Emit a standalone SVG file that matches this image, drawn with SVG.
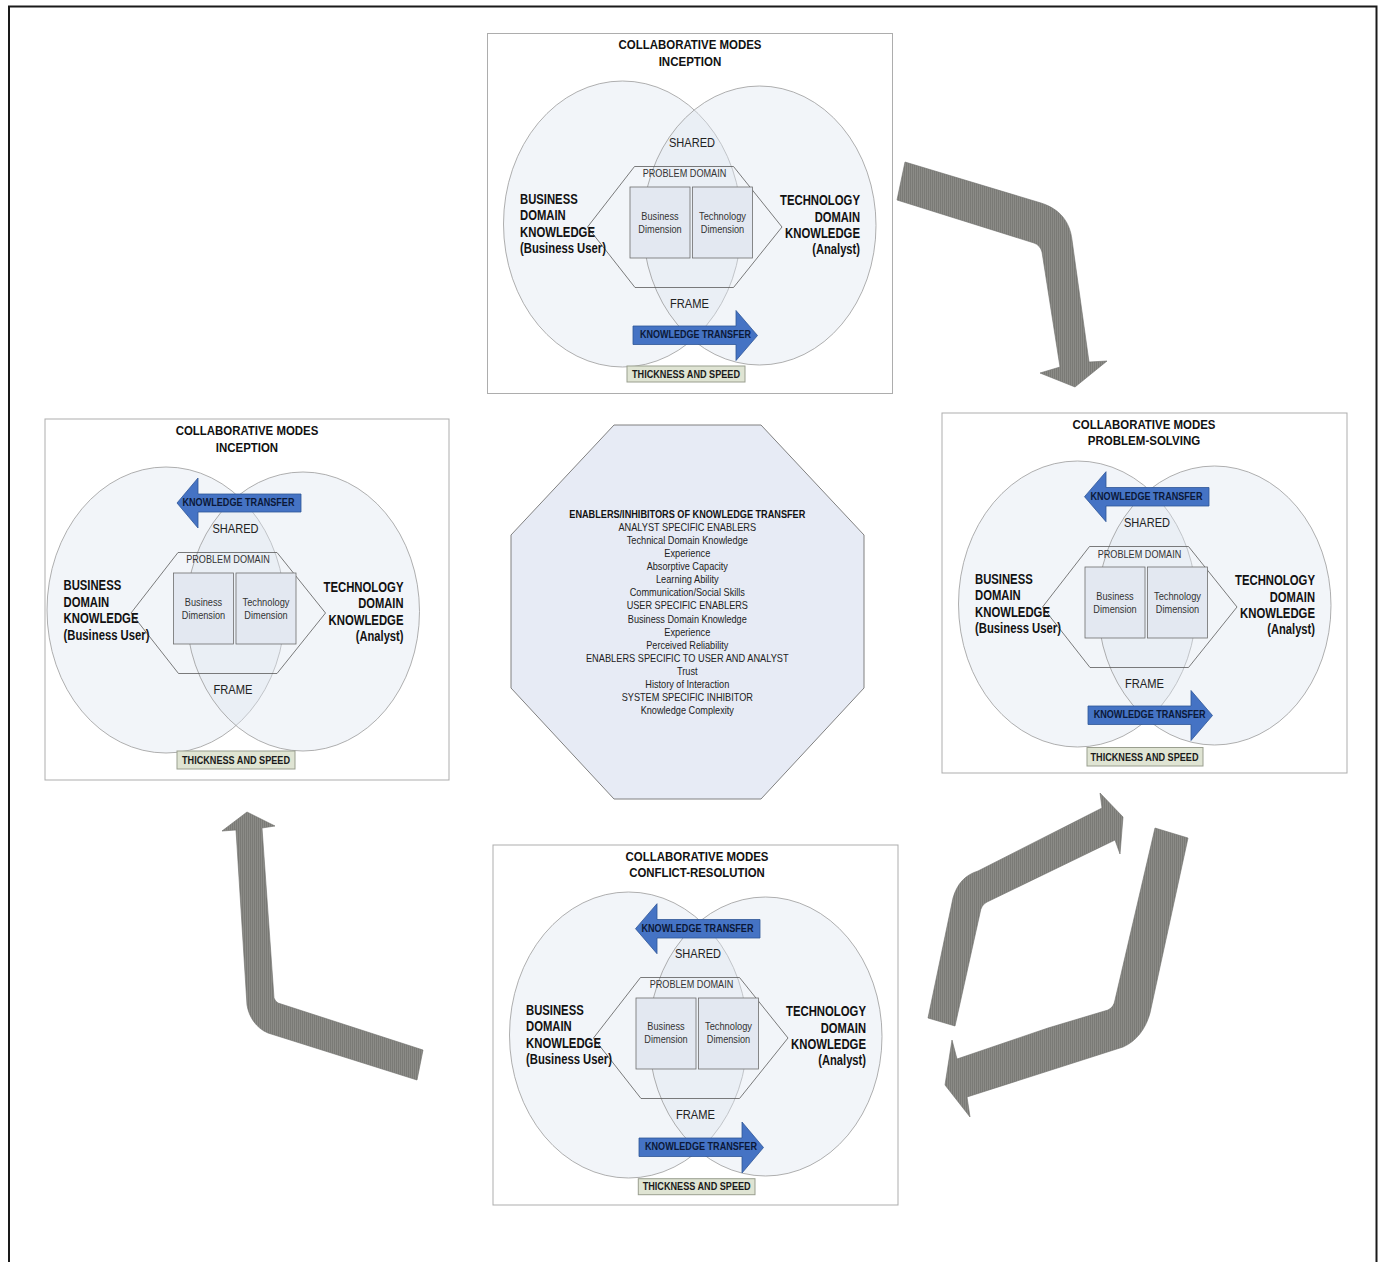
<svg xmlns="http://www.w3.org/2000/svg" width="1382" height="1262" viewBox="0 0 1382 1262">
<defs>
  <pattern id="stripes" width="2" height="4" patternUnits="userSpaceOnUse">
    <rect width="2" height="4" fill="#8b8b87"/>
    <rect width="1" height="4" fill="#7a7a76"/>
  </pattern>
</defs>
<style>
  text{font-family:"Liberation Sans",Arial,sans-serif}
  .title{font-size:13px;font-weight:bold;fill:#111;text-anchor:middle}
  .lbl{font-size:14px;font-weight:bold;fill:#111}
  .lblr{font-size:14px;font-weight:bold;fill:#111;text-anchor:end}
  .mid{font-size:13px;fill:#222;text-anchor:middle}
  .pd{font-size:11px;fill:#333;text-anchor:middle}
  .dim{font-size:10.5px;fill:#333;text-anchor:middle}
  .kt{font-size:10px;font-weight:bold;fill:#0b1838;text-anchor:middle}
  .ts{font-size:11.5px;font-weight:bold;fill:#1a1a1a;text-anchor:middle}
  .oct{font-size:10.5px;fill:#222;text-anchor:middle}
  .octb{font-size:10.5px;font-weight:bold;fill:#111;text-anchor:middle}
  .panel{fill:#fff;stroke:#adadad;stroke-width:1}
  .ell{fill:#dfe5f1;fill-opacity:.4;stroke:#9a9a9a;stroke-width:.8}
  .hex{fill:none;stroke:#5a5a5a;stroke-width:.8}
  .box{fill:#e3e8f1;stroke:#6e6e6e;stroke-width:.8}
  .blue{fill:#4573c4;stroke:#2f5597;stroke-width:.8}
  .tsbox{fill:#dfe4d3;stroke:#9a9f8f;stroke-width:1}
  .gray{fill:url(#stripes);stroke:#6d6d69;stroke-width:.6}
  .frame{fill:none;stroke:#1a1a1a;stroke-width:2}
  .octagon{fill:#e7ebf5;stroke:#808080;stroke-width:1}
</style>

<!-- page frame (open at the bottom edge) -->
<rect class="frame" x="9" y="6.5" width="1367.5" height="1290"/>

<!-- Panel: inception (top) -->
<g id="panel-inception-top" transform="translate(487,33)">
  <rect class="panel" x="0.5" y="0.5" width="405" height="360"/>
  <text class="title" x="203" y="16" textLength="143" lengthAdjust="spacingAndGlyphs">COLLABORATIVE MODES</text>
  <text class="title" x="203" y="32.5" textLength="62.7" lengthAdjust="spacingAndGlyphs">INCEPTION</text>
  <g class="venn">
    <ellipse class="ell" cx="135.5" cy="191" rx="119" ry="143"/>
    <ellipse class="ell" cx="272.5" cy="192.5" rx="116.5" ry="139.5"/>
    <polygon class="hex" points="147.5,133.5 246.5,133.5 295,194 246.5,254.5 148,254.5 100.5,194"/>
    <text class="pd" x="197.5" y="143.7" textLength="83.6" lengthAdjust="spacingAndGlyphs">PROBLEM DOMAIN</text>
    <rect class="box" x="143" y="154" width="60" height="71"/>
    <rect class="box" x="205.5" y="154" width="60" height="71"/>
    <text class="dim" x="173" y="186.5" textLength="37.3" lengthAdjust="spacingAndGlyphs">Business</text>
    <text class="dim" x="173" y="199.5" textLength="43.3" lengthAdjust="spacingAndGlyphs">Dimension</text>
    <text class="dim" x="235.5" y="186.5" textLength="47" lengthAdjust="spacingAndGlyphs">Technology</text>
    <text class="dim" x="235.5" y="199.5" textLength="43.3" lengthAdjust="spacingAndGlyphs">Dimension</text>
    <text class="mid" x="205" y="114" textLength="46" lengthAdjust="spacingAndGlyphs">SHARED</text>
    <text class="mid" x="202.5" y="275" textLength="39" lengthAdjust="spacingAndGlyphs">FRAME</text>
    <text class="lbl" x="33" y="170.5" textLength="57.7" lengthAdjust="spacingAndGlyphs">BUSINESS</text>
    <text class="lbl" x="33" y="187" textLength="45.7" lengthAdjust="spacingAndGlyphs">DOMAIN</text>
    <text class="lbl" x="33" y="203.5" textLength="75" lengthAdjust="spacingAndGlyphs">KNOWLEDGE</text>
    <text class="lbl" x="33" y="220" textLength="86" lengthAdjust="spacingAndGlyphs">(Business User)</text>
    <text class="lblr" x="373" y="172" textLength="80" lengthAdjust="spacingAndGlyphs">TECHNOLOGY</text>
    <text class="lblr" x="373" y="188.5" textLength="45.3" lengthAdjust="spacingAndGlyphs">DOMAIN</text>
    <text class="lblr" x="373" y="205" textLength="75" lengthAdjust="spacingAndGlyphs">KNOWLEDGE</text>
    <text class="lblr" x="373" y="221" textLength="47.7" lengthAdjust="spacingAndGlyphs">(Analyst)</text>
  </g>
  <polygon class="blue" points="146,293 249,293 249,277.5 270.5,302.5 249,327.5 249,311.5 146,311.5"/>
  <text class="kt" x="208.5" y="305" textLength="111" lengthAdjust="spacingAndGlyphs">KNOWLEDGE TRANSFER</text>
  <rect class="tsbox" x="140" y="333" width="118" height="16"/>
  <text class="ts" x="199" y="344.5" textLength="108" lengthAdjust="spacingAndGlyphs">THICKNESS AND SPEED</text>
</g>

<!-- Panel: inception (left) -->
<g id="panel-inception-left" transform="translate(45,419)">
  <rect class="panel" x="0" y="0" width="404" height="361"/>
  <text class="title" x="202" y="16" textLength="142.7" lengthAdjust="spacingAndGlyphs">COLLABORATIVE MODES</text>
  <text class="title" x="202" y="32.7" textLength="62.3" lengthAdjust="spacingAndGlyphs">INCEPTION</text>
  <g class="venn" transform="translate(-14.5,0)">
    <ellipse class="ell" cx="135.5" cy="191" rx="119" ry="143"/>
    <ellipse class="ell" cx="272.5" cy="192.5" rx="116.5" ry="139.5"/>
    <polygon class="hex" points="147.5,133.5 246.5,133.5 295,194 246.5,254.5 148,254.5 100.5,194"/>
    <text class="pd" x="197.5" y="143.7" textLength="83.6" lengthAdjust="spacingAndGlyphs">PROBLEM DOMAIN</text>
    <rect class="box" x="143" y="154" width="60" height="71"/>
    <rect class="box" x="205.5" y="154" width="60" height="71"/>
    <text class="dim" x="173" y="186.5" textLength="37.3" lengthAdjust="spacingAndGlyphs">Business</text>
    <text class="dim" x="173" y="199.5" textLength="43.3" lengthAdjust="spacingAndGlyphs">Dimension</text>
    <text class="dim" x="235.5" y="186.5" textLength="47" lengthAdjust="spacingAndGlyphs">Technology</text>
    <text class="dim" x="235.5" y="199.5" textLength="43.3" lengthAdjust="spacingAndGlyphs">Dimension</text>
    <text class="mid" x="205" y="114" textLength="46" lengthAdjust="spacingAndGlyphs">SHARED</text>
    <text class="mid" x="202.5" y="275" textLength="39" lengthAdjust="spacingAndGlyphs">FRAME</text>
    <text class="lbl" x="33" y="171" textLength="57.7" lengthAdjust="spacingAndGlyphs">BUSINESS</text>
    <text class="lbl" x="33" y="187.5" textLength="45.7" lengthAdjust="spacingAndGlyphs">DOMAIN</text>
    <text class="lbl" x="33" y="204" textLength="75" lengthAdjust="spacingAndGlyphs">KNOWLEDGE</text>
    <text class="lbl" x="33" y="220.5" textLength="86" lengthAdjust="spacingAndGlyphs">(Business User)</text>
    <text class="lblr" x="373" y="172.5" textLength="80" lengthAdjust="spacingAndGlyphs">TECHNOLOGY</text>
    <text class="lblr" x="373" y="189" textLength="45.3" lengthAdjust="spacingAndGlyphs">DOMAIN</text>
    <text class="lblr" x="373" y="205.5" textLength="75" lengthAdjust="spacingAndGlyphs">KNOWLEDGE</text>
    <text class="lblr" x="373" y="221.5" textLength="47.7" lengthAdjust="spacingAndGlyphs">(Analyst)</text>
  </g>
  <polygon class="blue" points="256,75 153,75 153,59 132,84 153,109 153,93 256,93"/>
  <text class="kt" x="193.5" y="87" textLength="112" lengthAdjust="spacingAndGlyphs">KNOWLEDGE TRANSFER</text>
  <rect class="tsbox" x="132" y="332" width="118" height="18"/>
  <text class="ts" x="191" y="344.7" textLength="108" lengthAdjust="spacingAndGlyphs">THICKNESS AND SPEED</text>
</g>

<!-- Panel: problem-solving (right) -->
<g id="panel-problem-solving" transform="translate(942,413)">
  <rect class="panel" x="0" y="0" width="405" height="360"/>
  <text class="title" x="202" y="15.5" textLength="143" lengthAdjust="spacingAndGlyphs">COLLABORATIVE MODES</text>
  <text class="title" x="202" y="32" textLength="112.3" lengthAdjust="spacingAndGlyphs">PROBLEM-SOLVING</text>
  <g class="venn">
    <ellipse class="ell" cx="135.5" cy="191" rx="119" ry="143"/>
    <ellipse class="ell" cx="272.5" cy="192.5" rx="116.5" ry="139.5"/>
    <polygon class="hex" points="147.5,133.5 246.5,133.5 295,194 246.5,254.5 148,254.5 100.5,194"/>
    <text class="pd" x="197.5" y="144.5" textLength="83.6" lengthAdjust="spacingAndGlyphs">PROBLEM DOMAIN</text>
    <rect class="box" x="143" y="154" width="60" height="71"/>
    <rect class="box" x="205.5" y="154" width="60" height="71"/>
    <text class="dim" x="173" y="186.5" textLength="37.3" lengthAdjust="spacingAndGlyphs">Business</text>
    <text class="dim" x="173" y="199.5" textLength="43.3" lengthAdjust="spacingAndGlyphs">Dimension</text>
    <text class="dim" x="235.5" y="186.5" textLength="47" lengthAdjust="spacingAndGlyphs">Technology</text>
    <text class="dim" x="235.5" y="199.5" textLength="43.3" lengthAdjust="spacingAndGlyphs">Dimension</text>
    <text class="mid" x="205" y="114" textLength="46" lengthAdjust="spacingAndGlyphs">SHARED</text>
    <text class="mid" x="202.5" y="275" textLength="39" lengthAdjust="spacingAndGlyphs">FRAME</text>
    <text class="lbl" x="33" y="170.5" textLength="57.7" lengthAdjust="spacingAndGlyphs">BUSINESS</text>
    <text class="lbl" x="33" y="187" textLength="45.7" lengthAdjust="spacingAndGlyphs">DOMAIN</text>
    <text class="lbl" x="33" y="203.5" textLength="75" lengthAdjust="spacingAndGlyphs">KNOWLEDGE</text>
    <text class="lbl" x="33" y="220" textLength="86" lengthAdjust="spacingAndGlyphs">(Business User)</text>
    <text class="lblr" x="373" y="172" textLength="80" lengthAdjust="spacingAndGlyphs">TECHNOLOGY</text>
    <text class="lblr" x="373" y="188.5" textLength="45.3" lengthAdjust="spacingAndGlyphs">DOMAIN</text>
    <text class="lblr" x="373" y="205" textLength="75" lengthAdjust="spacingAndGlyphs">KNOWLEDGE</text>
    <text class="lblr" x="373" y="221" textLength="47.7" lengthAdjust="spacingAndGlyphs">(Analyst)</text>
  </g>
  <polygon class="blue" points="267,74.5 164,74.5 164,58.7 142.5,83.7 164,108.7 164,93 267,93"/>
  <text class="kt" x="204.5" y="86.5" textLength="112" lengthAdjust="spacingAndGlyphs">KNOWLEDGE TRANSFER</text>
  <polygon class="blue" points="146,293 249,293 249,277.5 270.5,302.5 249,327.5 249,311.5 146,311.5"/>
  <text class="kt" x="207.7" y="305.3" textLength="112" lengthAdjust="spacingAndGlyphs">KNOWLEDGE TRANSFER</text>
  <rect class="tsbox" x="145" y="334.5" width="116" height="18.5"/>
  <text class="ts" x="202.5" y="347.7" textLength="108" lengthAdjust="spacingAndGlyphs">THICKNESS AND SPEED</text>
</g>

<!-- Panel: conflict-resolution (bottom) -->
<g id="panel-conflict-resolution" transform="translate(493,845)">
  <rect class="panel" x="0" y="0" width="405" height="360"/>
  <text class="title" x="204" y="16" textLength="143" lengthAdjust="spacingAndGlyphs">COLLABORATIVE MODES</text>
  <text class="title" x="204" y="32" textLength="135.7" lengthAdjust="spacingAndGlyphs">CONFLICT-RESOLUTION</text>
  <g class="venn">
    <ellipse class="ell" cx="135.5" cy="190" rx="119" ry="143"/>
    <ellipse class="ell" cx="272.5" cy="191.5" rx="116.5" ry="139.5"/>
    <polygon class="hex" points="147.5,132.5 246.5,132.5 295,193 246.5,253.5 148,253.5 100.5,193"/>
    <text class="pd" x="198.5" y="143" textLength="83.6" lengthAdjust="spacingAndGlyphs">PROBLEM DOMAIN</text>
    <rect class="box" x="143" y="153" width="60" height="71"/>
    <rect class="box" x="205.5" y="153" width="60" height="71"/>
    <text class="dim" x="173" y="185" textLength="37.3" lengthAdjust="spacingAndGlyphs">Business</text>
    <text class="dim" x="173" y="198" textLength="43.3" lengthAdjust="spacingAndGlyphs">Dimension</text>
    <text class="dim" x="235.5" y="185" textLength="47" lengthAdjust="spacingAndGlyphs">Technology</text>
    <text class="dim" x="235.5" y="198" textLength="43.3" lengthAdjust="spacingAndGlyphs">Dimension</text>
    <text class="mid" x="205" y="113" textLength="46" lengthAdjust="spacingAndGlyphs">SHARED</text>
    <text class="mid" x="202.5" y="274" textLength="39" lengthAdjust="spacingAndGlyphs">FRAME</text>
    <text class="lbl" x="33" y="169.7" textLength="57.7" lengthAdjust="spacingAndGlyphs">BUSINESS</text>
    <text class="lbl" x="33" y="186" textLength="45.7" lengthAdjust="spacingAndGlyphs">DOMAIN</text>
    <text class="lbl" x="33" y="202.5" textLength="75" lengthAdjust="spacingAndGlyphs">KNOWLEDGE</text>
    <text class="lbl" x="33" y="219" textLength="86" lengthAdjust="spacingAndGlyphs">(Business User)</text>
    <text class="lblr" x="373" y="171" textLength="80" lengthAdjust="spacingAndGlyphs">TECHNOLOGY</text>
    <text class="lblr" x="373" y="187.5" textLength="45.3" lengthAdjust="spacingAndGlyphs">DOMAIN</text>
    <text class="lblr" x="373" y="204" textLength="75" lengthAdjust="spacingAndGlyphs">KNOWLEDGE</text>
    <text class="lblr" x="373" y="220" textLength="47.7" lengthAdjust="spacingAndGlyphs">(Analyst)</text>
  </g>
  <polygon class="blue" points="267,74.5 164,74.5 164,58.7 142.5,83.7 164,108.7 164,93 267,93"/>
  <text class="kt" x="204.5" y="87" textLength="112" lengthAdjust="spacingAndGlyphs">KNOWLEDGE TRANSFER</text>
  <polygon class="blue" points="146,293 249,293 249,277 270.5,302.5 249,328 249,311.5 146,311.5"/>
  <text class="kt" x="208" y="305.3" textLength="112" lengthAdjust="spacingAndGlyphs">KNOWLEDGE TRANSFER</text>
  <rect class="tsbox" x="145.3" y="333.7" width="116.7" height="16"/>
  <text class="ts" x="203.7" y="344.7" textLength="108" lengthAdjust="spacingAndGlyphs">THICKNESS AND SPEED</text>
</g>

<!-- Centre octagon: enablers and inhibitors -->
<g id="enablers-octagon">
  <polygon class="octagon" points="614,425 761,425 864,535 864,688 761,799 614,799 511,688 511,535"/>
  <text class="octb" x="687.3" y="517.7" textLength="236" lengthAdjust="spacingAndGlyphs">ENABLERS/INHIBITORS OF KNOWLEDGE TRANSFER</text>
  <text class="oct" x="687.3" y="530.8" textLength="137.7" lengthAdjust="spacingAndGlyphs">ANALYST SPECIFIC ENABLERS</text>
  <text class="oct" x="687.3" y="543.9" textLength="121.3" lengthAdjust="spacingAndGlyphs">Technical Domain Knowledge</text>
  <text class="oct" x="687.3" y="557" textLength="46" lengthAdjust="spacingAndGlyphs">Experience</text>
  <text class="oct" x="687.3" y="570.1" textLength="81.3" lengthAdjust="spacingAndGlyphs">Absorptive Capacity</text>
  <text class="oct" x="687.3" y="583.2" textLength="62.7" lengthAdjust="spacingAndGlyphs">Learning Ability</text>
  <text class="oct" x="687.3" y="596.3" textLength="115.3" lengthAdjust="spacingAndGlyphs">Communication/Social Skills</text>
  <text class="oct" x="687.3" y="609.4" textLength="121.3" lengthAdjust="spacingAndGlyphs">USER SPECIFIC ENABLERS</text>
  <text class="oct" x="687.3" y="622.5" textLength="119" lengthAdjust="spacingAndGlyphs">Business Domain Knowledge</text>
  <text class="oct" x="687.3" y="635.6" textLength="46" lengthAdjust="spacingAndGlyphs">Experience</text>
  <text class="oct" x="687.3" y="648.7" textLength="82" lengthAdjust="spacingAndGlyphs">Perceived Reliability</text>
  <text class="oct" x="687.3" y="661.8" textLength="202.7" lengthAdjust="spacingAndGlyphs">ENABLERS SPECIFIC TO USER AND ANALYST</text>
  <text class="oct" x="687.3" y="674.9" textLength="20.7" lengthAdjust="spacingAndGlyphs">Trust</text>
  <text class="oct" x="687.3" y="688" textLength="84" lengthAdjust="spacingAndGlyphs">History of Interaction</text>
  <text class="oct" x="687.3" y="701.1" textLength="131.3" lengthAdjust="spacingAndGlyphs">SYSTEM SPECIFIC INHIBITOR</text>
  <text class="oct" x="687.3" y="714.2" textLength="93.3" lengthAdjust="spacingAndGlyphs">Knowledge Complexity</text>
</g>

<!-- Bent block arrows linking the modes -->
<g id="connectors">
  <path class="gray" d="M905,162 L1041,203 C1060,209 1070,222 1072,240 L1089,362 L1107,361 L1075,387 L1040,373 L1060,367 L1042,252 Q1040,245 1034,243 L897,200 Z"/>
  <path class="gray" d="M928,1018 L953,898 C957,884 965,875 978,871 L1102,808 L1100,793 L1123,817 L1120,854 L1115,840 L987,902 Q981,905 980,913 L955,1026 Z"/>
  <path class="gray" d="M1155,828 L1188,838 L1150,1013 C1146,1028 1137,1041 1123,1047 L967,1097 L970,1117 L945,1085 L952,1040 L957,1059 L1048,1028 L1108,1010 Q1114,1007 1115,1000 Z"/>
  <path class="gray" d="M423,1050 L278,1003 Q275,1001 274,998 L262,828 L275,826 L247,812 L222,831 L236,830 L247,1005 C249,1017 256,1028 268,1033 L417,1080 Z"/>
</g>
</svg>
